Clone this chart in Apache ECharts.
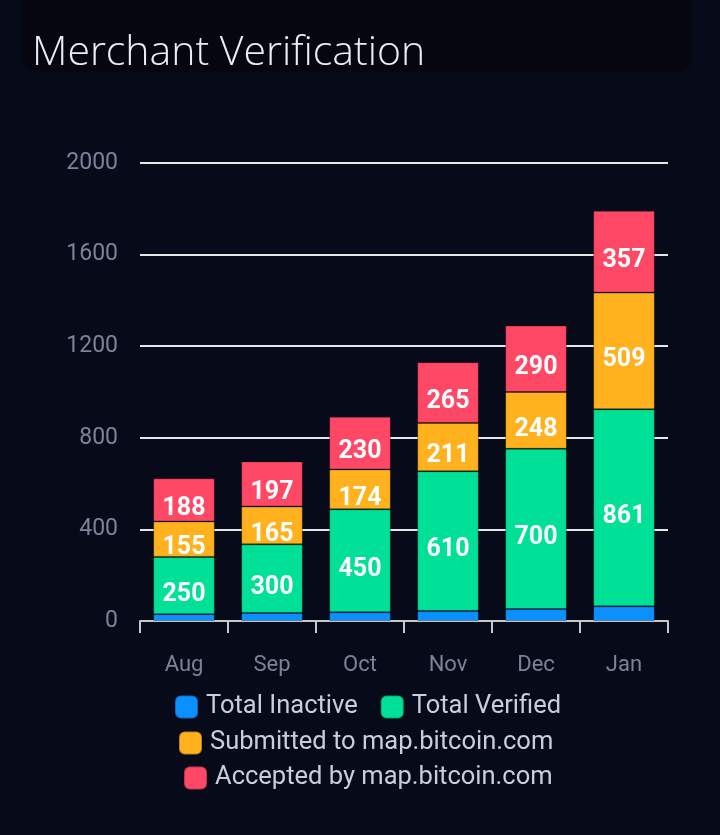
<!DOCTYPE html>
<html>
<head>
<meta charset="utf-8">
<script src="https://cdn.jsdelivr.net/npm/echarts@6/dist/echarts.min.js"></script>
<style>
    html, body { margin: 0; padding: 0; background: #070a19; }
    #chart { width: 720px; height: 835px; }
</style>
</head>
<body>
<div id="chart"></div>
<script>
/*
|--------------------------------------------------------------------------
| Data
|--------------------------------------------------------------------------
*/

const months = ['Aug', 'Sep', 'Oct', 'Nov', 'Dec', 'Jan'];
const totalInactive = [30, 35, 38, 44, 52, 64];
const totalVerified = [250, 300, 450, 610, 700, 861];
const submitted = [155, 165, 174, 211, 248, 509];
const accepted = [188, 197, 230, 265, 290, 357];

const seriesNames = ['Total Inactive', 'Total Verified', 'Submitted to map.bitcoin.com', 'Accepted by map.bitcoin.com'];
const seriesColors = ['#0a90ff', '#00e096', '#ffb11e', '#ff4866'];

/*
|--------------------------------------------------------------------------
| Chart
|--------------------------------------------------------------------------
*/

const chart = echarts.init(document.getElementById('chart'));

// Labels sit a bit below the segment centre, like in the original
const barLabel = {
    show: true,
    color: '#ffffff',
    fontFamily: 'Roboto',
    fontWeight: 'bold',
    fontSize: 25,
    offset: [0, 9],
};

const legendBase = {
    itemWidth: 23,
    itemHeight: 23,
    itemGap: 22,
    icon: 'roundRect',
    textStyle: { color: '#c9cedb', fontFamily: 'Roboto', fontSize: 25.5, padding: [0, 0, 0, 3] },
};

function makeSeries(i, data, withLabel) {
    return {
        name: seriesNames[i],
        type: 'bar',
        stack: 'total',
        barWidth: '70%',
        data,
        itemStyle: { color: seriesColors[i], borderColor: 'rgba(0,0,0,0.25)', borderWidth: 1 },
        label: withLabel ? barLabel : { show: false },
    };
}

chart.setOption({
    backgroundColor: '#070a19',
    animation: false,
    graphic: [{
        type: 'rect',
        shape: { x: 22, y: -20, width: 670, height: 92, r: 14 },
        style: { fill: '#05060f' },
        z: 0,
    }],
    title: {
        text: 'Merchant Verification',
        left: 27,
        top: 28,
        textStyle: { color: '#ecedf3', fontFamily: 'Open Sans', fontWeight: 300, fontSize: 41 },
    },
    // Three rows, each placed where the original's wrapped legend sits
    legend: [
        { ...legendBase, left: 169, top: 689, data: seriesNames.slice(0, 2) },
        { ...legendBase, left: 173, top: 725, data: [seriesNames[2]] },
        { ...legendBase, left: 178, top: 760, data: [seriesNames[3]] },
    ],
    grid: { left: 140, right: 52, top: 163, bottom: 214 },
    xAxis: {
        type: 'category',
        data: months,
        axisLine: { lineStyle: { color: '#c8c8c8', width: 2 } },
        axisTick: { show: true, length: 12, lineStyle: { color: '#c8c8c8', width: 2 } },
        axisLabel: { color: '#7d8299', fontFamily: 'Roboto', fontSize: 22, margin: 33 },
    },
    yAxis: {
        type: 'value',
        min: 0,
        max: 2000,
        interval: 400,
        axisLine: { show: false },
        axisTick: { show: false },
        axisLabel: {
            color: '#7d8299',
            fontFamily: 'Roboto',
            fontSize: 23,
            margin: 22,
            formatter: v => String(v),
        },
        splitLine: { lineStyle: { color: '#e6e6e6', width: 2 } },
    },
    series: [
        makeSeries(0, totalInactive, false),
        makeSeries(1, totalVerified, true),
        makeSeries(2, submitted, true),
        makeSeries(3, accepted, true),
    ],
});
</script>
</body>
</html>
